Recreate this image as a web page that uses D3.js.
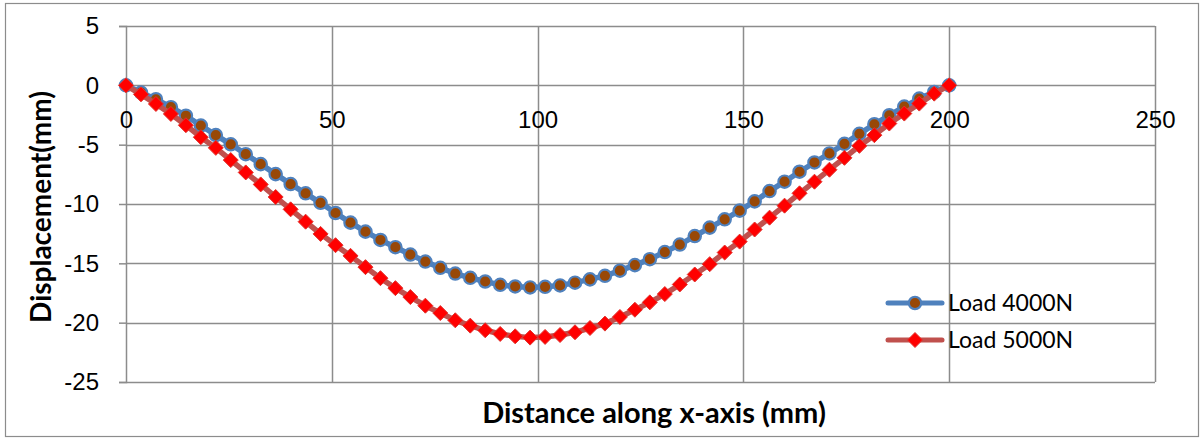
<!DOCTYPE html>
<html>
<head>
<meta charset="utf-8">
<script src="https://cdn.jsdelivr.net/npm/d3@7"></script>
<style>
    body { margin: 0; background: #fff; }
    svg { display: block; font-family: Lato, "Open Sans", sans-serif; }
</style>
</head>
<body>
<div id="chart"></div>
<script>
// distance along x-axis (mm), 56 nodes
const distance = [0, 3.64, 7.27, 10.91, 14.55, 18.18, 21.82, 25.45, 29.09, 32.73, 36.36, 40, 43.64, 47.27,
    50.91, 54.55, 58.18, 61.82, 65.45, 69.09, 72.73, 76.36, 80, 83.64, 87.27, 90.91, 94.55, 98.18,
    101.82, 105.45, 109.09, 112.73, 116.36, 120, 123.64, 127.27, 130.91, 134.55, 138.18, 141.82, 145.45, 149.09,
    152.73, 156.36, 160, 163.64, 167.27, 170.91, 174.55, 178.18, 181.82, 185.45, 189.09, 192.73, 196.36, 200];

// displacement (mm)
const load4000 = [0, -0.61, -1.17, -1.84, -2.56, -3.39, -4.19, -4.97, -5.80, -6.64, -7.48, -8.32, -9.10, -9.90,
    -10.76, -11.57, -12.33, -13.03, -13.64, -14.26, -14.85, -15.38, -15.86, -16.22, -16.53, -16.81, -16.95, -17.03,
    -16.98, -16.86, -16.63, -16.35, -16.05, -15.62, -15.15, -14.65, -14.05, -13.42, -12.70, -11.99, -11.29, -10.56,
    -9.78, -8.91, -8.12, -7.28, -6.50, -5.74, -4.93, -4.09, -3.28, -2.52, -1.79, -1.12, -0.56, 0];

const load5000 = [0, -0.76, -1.57, -2.41, -3.36, -4.37, -5.27, -6.30, -7.34, -8.35, -9.41, -10.45, -11.49, -12.52,
    -13.47, -14.37, -15.32, -16.25, -17.09, -17.84, -18.57, -19.19, -19.80, -20.25, -20.64, -20.95, -21.15, -21.26,
    -21.20, -21.04, -20.81, -20.45, -20.08, -19.52, -18.91, -18.29, -17.59, -16.78, -15.94, -15.07, -14.09, -13.17,
    -12.15, -11.15, -10.14, -9.10, -8.12, -7.11, -6.11, -5.10, -4.20, -3.22, -2.38, -1.54, -0.70, 0];

const seriesNames = ["Load 4000N", "Load 5000N"];
const xTicks = [0, 50, 100, 150, 200, 250];
const yTicks = [5, 0, -5, -10, -15, -20, -25];

const W = 1200, H = 441;
const margin = {top: 26, right: 45, bottom: 59, left: 126};
const width = W - margin.left - margin.right;
const height = H - margin.top - margin.bottom;

let root = d3.select("#chart")
    .append("svg")
    .attr("width", W)
    .attr("height", H);

// chart area border
root.append("rect")
    .attr("x", 5.5).attr("y", 3.5)
    .attr("width", 1193).attr("height", 433)
    .attr("fill", "#fff")
    .attr("stroke", "#8c8c8c")
    .attr("stroke-width", 1.2);

let svg = root.append("g")
    .attr("transform", "translate(" + margin.left + "," + margin.top + ")");

let xScale = d3.scaleLinear().domain([0, 250]).range([0, width]);
let yScale = d3.scaleLinear().domain([5, -25]).range([0, height]);

// horizontal gridlines
svg.append("g")
    .selectAll("line")
    .data(yTicks)
    .enter()
    .append("line")
    .attr("x1", 0).attr("x2", width)
    .attr("y1", d => Math.round(yScale(d)) + 0.5)
    .attr("y2", d => Math.round(yScale(d)) + 0.5)
    .attr("stroke", "#8c8c8c")
    .attr("stroke-width", 1.5);

// vertical gridlines
svg.append("g")
    .selectAll("line")
    .data(xTicks.slice(1))
    .enter()
    .append("line")
    .attr("x1", d => Math.round(xScale(d)) + 0.5)
    .attr("x2", d => Math.round(xScale(d)) + 0.5)
    .attr("y1", 0).attr("y2", height)
    .attr("stroke", "#8c8c8c")
    .attr("stroke-width", 1.5);

// Y axis with ticks pointing left
let yAxis = svg.append("g")
    .call(d3.axisLeft(yScale).tickValues(yTicks).tickSize(7).tickPadding(20).tickFormat(d => String(d)));
yAxis.select(".domain").attr("stroke", "#8c8c8c").attr("stroke-width", 1.5);
yAxis.selectAll(".tick line").attr("stroke", "#8c8c8c").attr("stroke-width", 1.5);
yAxis.selectAll("text").style("font-size", "24px").attr("fill", "#000");

// X axis sits on y = 0, labels below the line
let xAxis = svg.append("g")
    .attr("transform", "translate(0," + yScale(0) + ")")
    .call(d3.axisBottom(xScale).tickValues(xTicks).tickSize(0).tickPadding(26).tickFormat(d => String(d)));
xAxis.select(".domain").remove();
xAxis.selectAll("text").style("font-size", "24px").attr("fill", "#000");

/**
 * draws one series: line plus markers
 */
function drawSeries(values, lineColor, marker) {
    const pts = distance.map((d, i) => ({x: d, y: values[i]}));
    const line = d3.line().x(d => xScale(d.x)).y(d => yScale(d.y));

    svg.append("path")
        .datum(pts)
        .attr("d", line)
        .attr("fill", "none")
        .attr("stroke", lineColor)
        .attr("stroke-width", 5.5)
        .attr("stroke-linejoin", "round");

    svg.append("g")
        .selectAll("path")
        .data(pts)
        .enter()
        .append("path")
        .attr("transform", d => "translate(" + xScale(d.x) + "," + yScale(d.y) + ")")
        .attr("d", marker.shape)
        .attr("fill", marker.fill)
        .attr("stroke", marker.stroke)
        .attr("stroke-width", marker.strokeWidth);
}

const circleMarker = {
    shape: d3.symbol().type(d3.symbolCircle).size(120)(),
    fill: "#984807", stroke: "#4f81bd", strokeWidth: 2.2
};
const diamondMarker = {
    shape: "M0,-7.5L7.5,0L0,7.5L-7.5,0Z",
    fill: "#ff0000", stroke: "#e03530", strokeWidth: 1
};

drawSeries(load4000, "#4f81bd", circleMarker);
drawSeries(load5000, "#c0504d", diamondMarker);

// legend
const legend = [
    {name: seriesNames[0], color: "#4f81bd", marker: circleMarker, y: 303},
    {name: seriesNames[1], color: "#c0504d", marker: diamondMarker, y: 340}
];
legend.forEach(function (l) {
    root.append("line")
        .attr("x1", 888).attr("x2", 942)
        .attr("y1", l.y).attr("y2", l.y)
        .attr("stroke", l.color)
        .attr("stroke-width", 5)
        .attr("stroke-linecap", "round");
    root.append("path")
        .attr("transform", "translate(915," + l.y + ")")
        .attr("d", l.marker.shape)
        .attr("fill", l.marker.fill)
        .attr("stroke", l.marker.stroke)
        .attr("stroke-width", l.marker.strokeWidth);
    root.append("text")
        .attr("x", 948).attr("y", l.y)
        .attr("dy", "0.35em")
        .style("font-size", "23px")
        .text(l.name);
});

// axis titles
root.append("text")
    .attr("x", 654).attr("y", 423)
    .attr("text-anchor", "middle")
    .style("font-size", "29px")
    .style("font-weight", "bold")
    .text("Distance along x-axis (mm)");

root.append("text")
    .attr("transform", "translate(51,207) rotate(-90)")
    .attr("text-anchor", "middle")
    .style("font-size", "28px")
    .style("font-weight", "bold")
    .text("Displacement(mm)");
</script>
</body>
</html>
